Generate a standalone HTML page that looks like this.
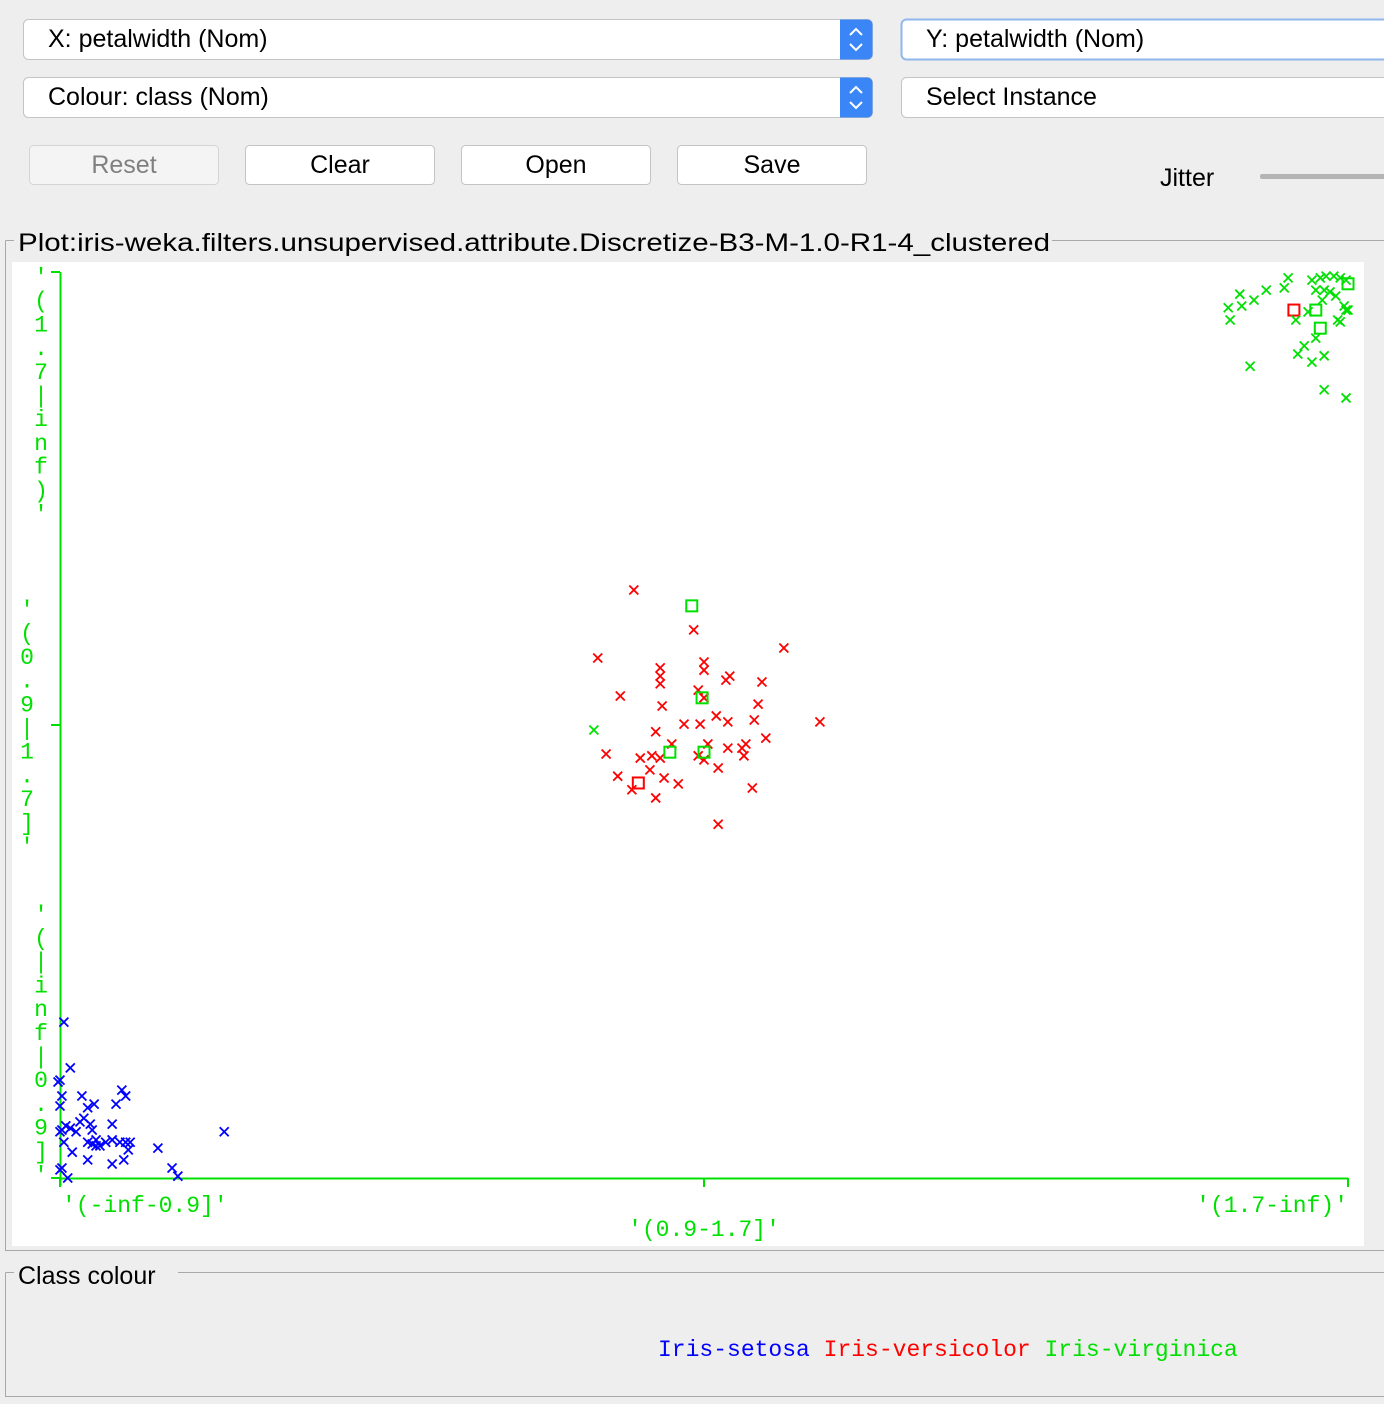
<!DOCTYPE html>
<html><head><meta charset="utf-8">
<style>
html,body{margin:0;padding:0;background:#eeeeee;}
svg{display:block;}
.ui{font-family:"Liberation Sans",sans-serif;fill:#000;}
.mono{font-family:"Liberation Mono","DejaVu Sans Mono",monospace;}
</style></head>
<body>
<svg id="root" width="1384" height="1404" viewBox="0 0 1384 1404" xmlns="http://www.w3.org/2000/svg">
  <rect width="1384" height="1404" fill="#eeeeee"/>

  <!-- X combobox -->
  <g>
    <rect x="23.5" y="19.5" width="849" height="40" rx="5" fill="#fff" stroke="#c4c4c4"/>
    <text class="ui" x="48" y="47" font-size="25">X: petalwidth (Nom)</text>
    <path d="M840 19.5 h27.5 a5 5 0 0 1 5 5 v30 a5 5 0 0 1 -5 5 h-27.5z" fill="#3b86f7"/>
    <path d="M850 35 l6-6 6 6 M850 44 l6 6 6-6" stroke="#fff" stroke-width="2" fill="none"/>
  </g>
  <g>
    <rect x="901.5" y="19.5" width="500" height="40" rx="5" fill="#fff" stroke="#8fb7ee" stroke-width="2"/>
    <text class="ui" x="926" y="47" font-size="25">Y: petalwidth (Nom)</text>
  </g>
  <g>
    <rect x="23.5" y="77.5" width="849" height="40" rx="5" fill="#fff" stroke="#c4c4c4"/>
    <text class="ui" x="48" y="105" font-size="25">Colour: class (Nom)</text>
    <path d="M840 77.5 h27.5 a5 5 0 0 1 5 5 v30 a5 5 0 0 1 -5 5 h-27.5z" fill="#3b86f7"/>
    <path d="M850 93 l6-6 6 6 M850 102 l6 6 6-6" stroke="#fff" stroke-width="2" fill="none"/>
  </g>
  <g>
    <rect x="901.5" y="77.5" width="500" height="40" rx="5" fill="#fff" stroke="#c4c4c4"/>
    <text class="ui" x="926" y="105" font-size="25">Select Instance</text>
  </g>

  <g>
    <rect x="29.5" y="145.5" width="189" height="39" rx="4" fill="#f4f4f4" stroke="#d4d4d4"/>
    <text class="ui" x="124" y="173" font-size="25" text-anchor="middle" fill="#808080" style="fill:#808080">Reset</text>
  </g>
  <g>
    <rect x="245.5" y="145.5" width="189" height="39" rx="4" fill="#fff" stroke="#c4c4c4"/>
    <text class="ui" x="340" y="173" font-size="25" text-anchor="middle">Clear</text>
  </g>
  <g>
    <rect x="461.5" y="145.5" width="189" height="39" rx="4" fill="#fff" stroke="#c4c4c4"/>
    <text class="ui" x="556" y="173" font-size="25" text-anchor="middle">Open</text>
  </g>
  <g>
    <rect x="677.5" y="145.5" width="189" height="39" rx="4" fill="#fff" stroke="#c4c4c4"/>
    <text class="ui" x="772" y="173" font-size="25" text-anchor="middle">Save</text>
  </g>
  <text class="ui" x="1160" y="186" font-size="25">Jitter</text>
  <rect x="1260" y="174" width="130" height="5" rx="2" fill="#b4b4b4"/>

  <!-- Plot frame -->
  <path d="M1052 240.5 H1384 M5.5 240.5 V1250.5 H1384 M5.5 240.5 H14" stroke="#a8a8a8" fill="none"/>
  <text class="ui" x="18" y="251" font-size="25" textLength="1032" lengthAdjust="spacingAndGlyphs">Plot:iris-weka.filters.unsupervised.attribute.Discretize-B3-M-1.0-R1-4_clustered</text>
  <rect x="12" y="262" width="1352" height="984" fill="#fff"/>

  <g id="axes"></g>
  <g id="marks"></g>

  <!-- Legend frame -->
  <path d="M178 1272.5 H1384 M5.5 1272.5 V1396.5 H1384 M5.5 1272.5 H14" stroke="#a8a8a8" fill="none"/>
  <text class="ui" x="18" y="1284" font-size="25">Class colour</text>
  <text class="mono" x="658" y="1356" font-size="23"><tspan fill="#0000ff">Iris-setosa</tspan> <tspan fill="#ff0000">Iris-versicolor</tspan> <tspan fill="#00e000">Iris-virginica</tspan></text>
</svg>
<script>
const categories = ["'(-inf-0.9]'", "'(0.9-1.7]'", "'(1.7-inf)'"];
const setosaX = [0.006,0.016,0,-0.003,0.003,0.034,0,0.043,0.053,0.087,0.096,0.102,0.037,0.031,0.009,0.003,0.016,0.025,0.047,0.050,0.081,0,0.006,0.019,0.043,0.056,0.062,0.071,0.081,0.093,0.102,0.109,0.106,0.099,0.081,0.043,0.152,0.255,0,0.003,0.012,0.174,0.183,0.056,0.050];
const setosaY = [0.344,0.243,0.216,0.212,0.181,0.181,0.159,0.155,0.163,0.163,0.194,0.181,0.132,0.124,0.115,0.106,0.110,0.102,0.119,0.106,0.119,0.102,0.079,0.057,0.079,0.071,0.071,0.079,0.084,0.079,0.079,0.079,0.062,0.040,0.031,0.040,0.066,0.102,0.018,0.022,0,0.022,0.004,0.084,0.075];
const versicolorX = [0.891,0.984,0.835,1.124,0.932,0.932,1.0,1.0,0.932,0.870,1.034,1.040,1.090,0.991,1.0,0.935,1.084,0.969,0.994,1.019,1.037,1.078,1.180,0.925,0.950,1.006,1.096,0.848,0.901,0.919,0.991,1.0,1.037,1.059,1.065,1.062,0.938,0.960,0.916,0.866,0.888,0.925,1.022,1.075,1.022,0.932,1.916];
const versicolorY = [1.298,1.210,1.148,1.170,1.126,1.108,1.139,1.121,1.091,1.064,1.099,1.108,1.095,1.077,1.060,1.042,1.046,1.002,1.002,1.020,1.007,1.011,1.007,0.985,0.958,0.958,0.971,0.936,0.927,0.932,0.932,0.923,0.949,0.949,0.958,0.932,0.883,0.870,0.901,0.887,0.857,0.839,0.905,0.861,0.781,0.927,1.916];
const versicolorFlag = [0,0,0,0,0,0,0,0,0,0,0,0,0,0,0,0,0,0,0,0,0,0,0,0,0,0,0,0,0,0,0,0,0,0,0,0,0,0,0,0,0,0,0,0,0,0,1];
const versicolorSqX = [0.898];
const versicolorSqY = [0.872];
const virginicaX = [0.829,1.907,1.901,1.873,1.832,1.854,1.835,1.814,1.817,1.848,1.944,1.957,1.966,1.978,1.988,1.997,1.950,1.963,1.972,1.981,1.960,1.938,1.919,1.997,1.988,1.994,2.0,1.984,1.950,1.932,1.922,1.944,1.963,1.963,1.997];
const virginicaY = [0.989,1.987,1.965,1.960,1.951,1.938,1.925,1.921,1.894,1.792,1.982,1.987,1.991,1.991,1.987,1.982,1.960,1.960,1.956,1.947,1.938,1.912,1.894,1.916,1.890,1.925,1.916,1.894,1.854,1.837,1.819,1.801,1.815,1.740,1.722];
const virginicaSqX = [0.981,0.997,0.947,1.0,1.950,1.957,2.0];
const virginicaSqY = [1.263,1.060,0.940,0.940,1.916,1.876,1.974];

const NS = "http://www.w3.org/2000/svg";
const X0 = 60, X1 = 1348, Y0 = 1178, Y1 = 272;
function xScale(v){ return X0 + v * (X1 - X0) / (categories.length - 1); }
function yScale(v){ return Y0 - v * (Y0 - Y1) / (categories.length - 1); }
const GREEN = "#00e000";
function mk(tag, attrs, parent){ const e = document.createElementNS(NS, tag); for (const k in attrs) e.setAttribute(k, attrs[k]); parent.appendChild(e); return e; }

const axes = document.getElementById("axes");
const xAxisLine = mk("line", {x1: X0, y1: Y0 + 0.5, x2: X1, y2: Y0 + 0.5, stroke: GREEN, "stroke-width": 2}, axes);


const yAxisLine = mk("line", {x1: X0 + 0.5, y1: Y1, x2: X0 + 0.5, y2: Y0 + 8, stroke: GREEN, "stroke-width": 2}, axes);



categories.forEach((c, i) => {
  const xt = mk("line", {x1: xScale(i), y1: Y0, x2: xScale(i), y2: Y0 + 9, stroke: GREEN, "stroke-width": 2}, axes);
  
  
  const yt = mk("line", {x1: X0 - 9, y1: yScale(i), x2: X0, y2: yScale(i), stroke: GREEN, "stroke-width": 2}, axes);
  
  
  // x label
  let anchor = i === 0 ? "start" : (i === categories.length - 1 ? "end" : "middle");
  let lx = i === 0 ? xScale(i) + 2 : xScale(i);
  let ly = i === 1 ? 1236 : 1212;
  const xl = mk("text", {x: lx, y: ly, "font-size": 23, fill: GREEN, "text-anchor": anchor, class: "mono"}, axes);
  xl.textContent = c;
  
  
  // y label (vertical chars)
  const chars = c.split("");
  const step = 23.7;
  const total = (chars.length - 1) * step;
  let startY;
  if (i === 0) startY = Y0 - 4 - total;
  else if (i === categories.length - 1) startY = Y1 + 4;
  else startY = yScale(i) - total / 2 + 2;
  const lxp = i === 1 ? 27 : 41;
  const g = mk("g", {}, axes);
  
  
  chars.forEach((ch, k) => {
    const t = mk("text", {x: lxp, y: startY + k * step + 8, "font-size": 23, fill: GREEN, "text-anchor": "middle", class: "mono"}, g);
    t.textContent = ch === "-" ? "|" : ch;
  });
});

const marks = document.getElementById("marks");
function cross(xv, yv, color, name){
  const cx = xScale(xv), cy = yScale(yv), r = 4.5;
  const p = mk("path", {d: `M${cx-r} ${cy-r} L${cx+r} ${cy+r} M${cx+r} ${cy-r} L${cx-r} ${cy+r}`, stroke: color, "stroke-width": 1.8, fill: "none"}, marks);
  
  
}
function square(xv, yv, color, name){
  const cx = xScale(xv), cy = yScale(yv);
  const r = mk("rect", {x: cx - 5.5, y: cy - 5.5, width: 11, height: 11, stroke: color, "stroke-width": 2, fill: "none"}, marks);
  
  
}
setosaX.forEach((v, i) => cross(v, setosaY[i], "#0000ff", "setosa-point"));
versicolorX.forEach((v, i) => { if (versicolorFlag[i]) square(v, versicolorY[i], "#ff0000", "versicolor-square"); else cross(v, versicolorY[i], "#ff0000", "versicolor-point"); });
versicolorSqX.forEach((v, i) => square(v, versicolorSqY[i], "#ff0000", "versicolor-square"));
virginicaX.forEach((v, i) => cross(v, virginicaY[i], GREEN, "virginica-point"));
virginicaSqX.forEach((v, i) => square(v, virginicaSqY[i], GREEN, "virginica-square"));
</script>
</body></html>
